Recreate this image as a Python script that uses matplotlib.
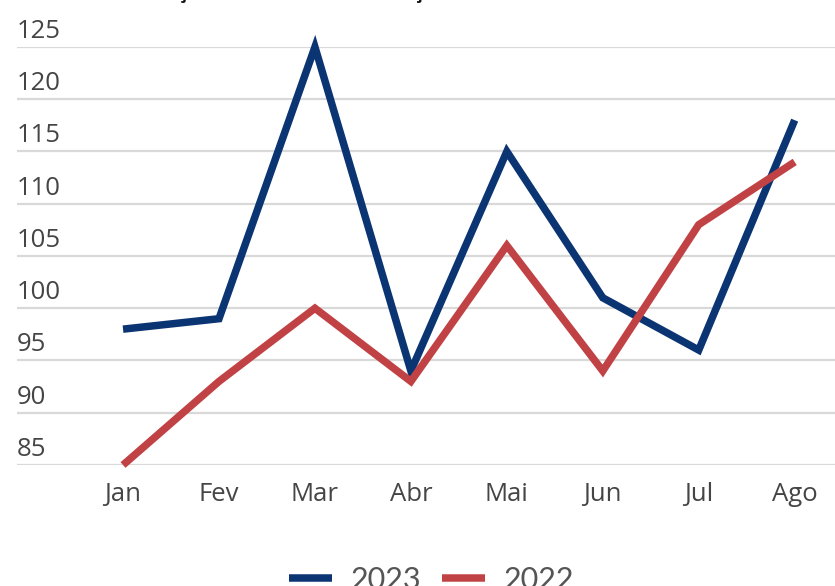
import matplotlib
matplotlib.use("Agg")
from matplotlib import pyplot as plt
from matplotlib.transforms import blended_transform_factory, offset_copy

months = ["Jan", "Fev", "Mar", "Abr", "Mai", "Jun", "Jul", "Ago"]
vals_2023 = [98, 99, 125, 94, 115, 101, 96, 118]
vals_2022 = [85, 93, 100, 93, 106, 94, 108, 114]
yticks = [85, 90, 95, 100, 105, 110, 115, 120, 125]

navy = "#0b3472"
red = "#c14244"
grey_txt = "#454545"

plt.rcParams["font.family"] = ["Open Sans", "DejaVu Sans"]

W, H = 835, 586
fig = plt.figure(figsize=(W / 100, H / 100), dpi=100)
ax = fig.add_axes([17 / W, (H - 465) / H, 1 - 17 / W, (465 - 47) / H])

x = list(range(len(months)))
ax.plot(x, vals_2023, color=navy, lw=5.4, label="2023", clip_on=False,
        solid_joinstyle="miter", solid_capstyle="butt")
ax.plot(x, vals_2022, color=red, lw=5.4, label="2022", clip_on=False,
        solid_joinstyle="miter", solid_capstyle="butt")

ax.set_xlim(-1.105, 7.42)
ax.set_ylim(85, 125)

# grid lines with labels sitting above them
for v in yticks:
    ax.axhline(v, color="#d9d9d9", lw=1.6, zorder=0)
trans = blended_transform_factory(ax.transAxes, ax.transData)
trans = offset_copy(trans, fig=fig, x=0, y=9, units="dots")
for v in yticks:
    ax.text(0, v, str(v), transform=trans, ha="left", va="baseline",
            fontsize=18.5, color=grey_txt)

ax.set_yticks([])
ax.set_xticks(x)
ax.set_xticklabels(months, fontsize=18.5, color=grey_txt)
ax.tick_params(axis="x", length=0, pad=12)
for s in ax.spines.values():
    s.set_visible(False)

# title cut off at top of image, only the cedillas peek through
fig.text(124 / W, 1 + 2 / H, "Evolução mensal da arrecadação", ha="left",
         va="baseline", fontsize=14.3, fontweight="bold", color="#111111")

fig.legend(loc="center", bbox_to_anchor=(0.517, 6 / H), ncol=2, frameon=False,
           prop={"family": ["Lato", "DejaVu Sans"], "size": 22},
           labelcolor="#555555", handlelength=1.4, handletextpad=0.6,
           columnspacing=0.7)

fig.savefig("out.png", dpi=100)
